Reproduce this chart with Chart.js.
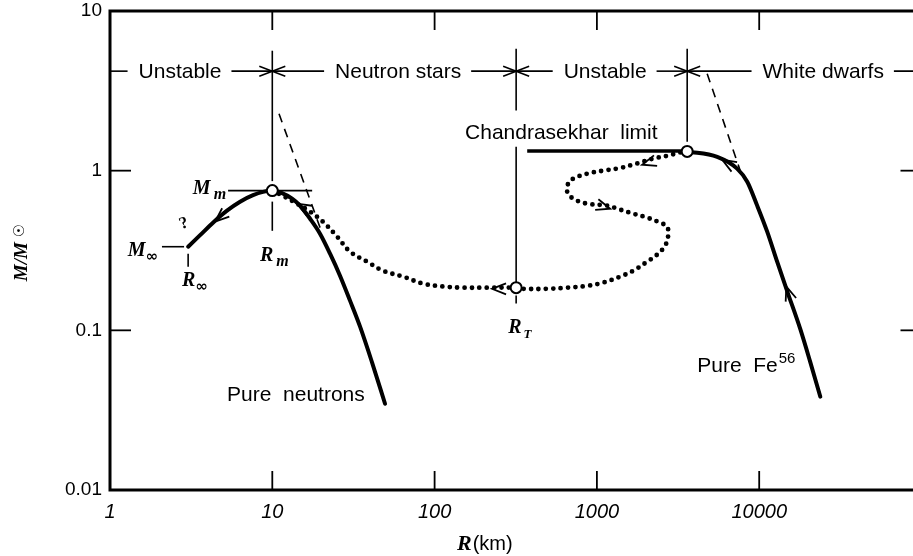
<!DOCTYPE html>
<html><head><meta charset="utf-8">
<script src="https://cdn.jsdelivr.net/npm/chart.js@4.4.1/dist/chart.umd.min.js"></script>
<style>html,body{margin:0;padding:0;background:#fff;overflow:hidden;width:913px;height:556px}canvas{display:block}</style>
</head><body>
<canvas id="c" width="929" height="556"></canvas>
<script>
// ---------- data (R in km, M in solar masses) ----------
const xTickValues = [1, 10, 100, 1000, 10000, 100000];
const xTickLabels = ['1', '10', '100', '1000', '10000', ''];
const yTickValues = [0.01, 0.1, 1, 10];
const yTickLabels = ['0.01', '0.1', '1', '10'];

// pure-neutron branch (from R∞ through the maximum M_m down to low mass)
const neutronR = [3.03, 3.59, 4.31, 5.26, 6.33, 7.61, 8.77, 10, 11.48, 13.24, 14.83, 17.09, 19.68, 22.69, 26.13, 30.12, 34.74, 41.2, 49.5];
const neutronM = [0.334, 0.3945, 0.4724, 0.5617, 0.639, 0.702, 0.736, 0.75, 0.723, 0.668, 0.604, 0.500, 0.403, 0.302, 0.220, 0.1535, 0.1054, 0.0628, 0.0347];

// dotted branch: from M_m through R_T and the S-bend up to the Chandrasekhar point
const dottedR = [10, 11.6, 14.2, 17.1, 20.5, 25.1, 30.1, 38.4, 48.2, 64, 85, 113, 150, 211, 318, 351, 494, 656, 871, 1093, 1391, 1672, 2040, 2351, 2634, 2749, 2710, 2455, 2040, 1672, 1391, 1156, 871, 714, 656, 665, 714, 871, 1093, 1391, 1771, 2222, 2710, 3260, 3600];
const dottedM = [0.75, 0.697, 0.621, 0.554, 0.479, 0.386, 0.311, 0.269, 0.236, 0.217, 0.196, 0.188, 0.185, 0.185, 0.185, 0.182, 0.182, 0.185, 0.19, 0.199, 0.217, 0.236, 0.269, 0.298, 0.339, 0.392, 0.446, 0.472, 0.508, 0.538, 0.57, 0.604, 0.621, 0.668, 0.739, 0.829, 0.891, 0.958, 1.0, 1.04, 1.11, 1.19, 1.24, 1.30, 1.32];

// Chandrasekhar limit line
const chandraR = [372, 3600];
const chandraM = [1.33, 1.33];

// white-dwarf (pure Fe56) branch
const dwarfR = [3600, 5510, 7310, 8440, 9720, 11200, 12900, 14900, 17900, 20600, 23800];
const dwarfM = [1.32, 1.22, 1.03, 0.853, 0.604, 0.415, 0.269, 0.175, 0.102, 0.0637, 0.0384];

// dashed asymptotes
const dashNR = [11.0, 20.0];
const dashNM = [2.27, 0.421];
const dashWR = [4780, 7750];
const dashWM = [4.05, 0.958];

// marked points: M_m/R_m, R_T, Chandrasekhar limit
const markR = [10, 318, 3600];
const markM = [0.75, 0.185, 1.32];

// region band
const dividerR = [10, 318, 3600];
const regionNames = ['Unstable', 'Neutron stars', 'Unstable', 'White dwarfs'];
const regionLabelR = [2.70, 59.6, 1124, 24800];
const regionBandM = 4.2;

// arrows along curves (series, R, M) – pointing back along the series order
const arrowSeries = ['neutron', 'dotted', 'dotted', 'dotted', 'dotted', 'dwarf', 'dwarf'];
const arrowR = [4.44, 14.2, 226, 1207, 1900, 5920, 14700];
const arrowM = [0.48, 0.621, 0.182, 0.578, 1.09, 1.17, 0.188];

// ---------- build chart ----------
const pts = (R, M) => R.map((r, i) => ({ x: r, y: M[i] }));
const seriesPts = { neutron: pts(neutronR, neutronM), dotted: pts(dottedR, dottedM), dwarf: pts(dwarfR, dwarfM) };

const base = { showLine: true, pointRadius: 0, borderColor: '#000', fill: false, order: 2 };

const deco = {
  id: 'deco',
  beforeDatasetsDraw(chart) {
    const { ctx, chartArea: a, scales: { x, y } } = chart;
    const X = v => x.getPixelForValue(v), Y = v => y.getPixelForValue(v);
    const line = (x1, y1, x2, y2) => { ctx.beginPath(); ctx.moveTo(x1, y1); ctx.lineTo(x2, y2); ctx.stroke(); };
    const head = (tx, ty, ang, len = 13, half = 5) => {
      const c = Math.cos(ang), s = Math.sin(ang);
      const bx = tx - len * c, by = ty - len * s;
      ctx.beginPath();
      ctx.moveTo(bx - half * s, by + half * c); ctx.lineTo(tx, ty); ctx.lineTo(bx + half * s, by - half * c);
      ctx.stroke();
    };
    ctx.save();
    ctx.strokeStyle = '#000'; ctx.fillStyle = '#000'; ctx.lineCap = 'butt';
    // frame
    ctx.lineWidth = 3;
    ctx.beginPath();
    ctx.moveTo(a.right + 3, a.top); ctx.lineTo(a.left, a.top); ctx.lineTo(a.left, a.bottom); ctx.lineTo(a.right + 3, a.bottom);
    ctx.stroke();
    // inward ticks
    ctx.lineWidth = 1.8;
    xTickValues.forEach(v => {
      if (v <= x.min || v >= x.max) return;
      const px = X(v); line(px, a.bottom, px, a.bottom - 19); line(px, a.top, px, a.top + 19);
    });
    yTickValues.forEach(v => {
      if (v <= y.min || v >= y.max) return;
      const py = Y(v); line(a.left, py, a.left + 21, py); line(a.right, py, a.right - 21, py);
    });
    // dividers
    ctx.lineWidth = 1.6;
    const vseg = (R, m1, m2) => line(X(R), Y(m1), X(R), Y(m2));
    vseg(dividerR[0], 5.64, 0.86); vseg(dividerR[0], 0.64, 0.42);
    vseg(dividerR[1], 5.8, 2.38); vseg(dividerR[1], 1.41, 0.20); vseg(dividerR[1], 0.165, 0.147);
    vseg(dividerR[2], 5.8, 1.52);
    // M_m, M∞, R∞ marks
    line(X(5.34), Y(markM[0]), X(17.6), Y(markM[0]));
    line(X(2.09), Y(neutronM[0]), X(2.86), Y(neutronM[0]));
    vseg(neutronR[0], 0.302, 0.25);
    // region band
    ctx.font = '21px "Liberation Sans"';
    ctx.textBaseline = 'middle'; ctx.textAlign = 'center';
    const by = Y(regionBandM);
    regionNames.forEach((name, i) => {
      const cx = X(regionLabelR[i]);
      const w = ctx.measureText(name).width;
      ctx.fillText(name, cx, by + 1);
      const lb = i === 0 ? a.left : X(dividerR[i - 1]);
      const rb = i === regionNames.length - 1 ? a.right + 5 : X(dividerR[i]);
      line(lb, by, cx - w / 2 - 11, by);
      line(cx + w / 2 + 10, by, rb, by);
      if (i > 0) head(lb, by, Math.PI);
      if (i < regionNames.length - 1) head(rb, by, 0);
    });
    // text labels
    ctx.textAlign = 'left'; ctx.textBaseline = 'alphabetic';
    const serif = '20px "Liberation Serif"';
    const sub = (main, s, R, M, align, subFont, gap) => {
      ctx.font = 'italic bold ' + serif;
      const w1 = ctx.measureText(main).width;
      ctx.font = subFont;
      const w2 = ctx.measureText(s).width;
      let px = X(R); const py = Y(M);
      if (align === 'right') px -= (w1 + w2 + gap);
      ctx.font = 'italic bold ' + serif; ctx.fillText(main, px, py);
      ctx.font = subFont; ctx.fillText(s, px + w1 + gap, py + 5);
    };
    sub('M', 'm', 5.19, 0.718, 'right', 'italic bold 16px "Liberation Serif"', 3);
    sub('M', '∞', 1.98, 0.294, 'right', 'bold 15px "DejaVu Sans"', 0);
    sub('R', 'm', 8.40, 0.273, 'left', 'italic bold 16px "Liberation Serif"', 3);
    sub('R', '∞', 2.78, 0.190, 'left', 'bold 15px "DejaVu Sans"', 0);
    sub('R', 'T', 284, 0.0967, 'left', 'italic bold 13px "Liberation Serif"', 2);
    ctx.font = '21px "Liberation Sans"';
    ctx.fillText('Chandrasekhar  limit', X(154), Y(1.586));
    ctx.fillText('Pure  neutrons', X(5.26), Y(0.0363));
    const fx = X(4150), fy = Y(0.0551);
    ctx.fillText('Pure  Fe', fx, fy);
    const fw = ctx.measureText('Pure  Fe').width;
    ctx.font = '15px "Liberation Sans"';
    ctx.fillText('56', fx + fw + 1, fy - 9);
    // small question mark near R∞
    ctx.save();
    ctx.translate(X(2.86), Y(0.466));
    ctx.rotate(-0.35);
    ctx.font = 'bold 17px "Liberation Serif"';
    ctx.textAlign = 'center'; ctx.textBaseline = 'middle';
    ctx.fillText('?', 0, 0);
    ctx.restore();
    ctx.restore();
  },
  afterDatasetsDraw(chart) {
    const { ctx, chartArea: a, scales: { x, y } } = chart;
    const X = v => x.getPixelForValue(v), Y = v => y.getPixelForValue(v);
    ctx.save();
    ctx.strokeStyle = '#000'; ctx.lineWidth = 1.8; ctx.lineCap = 'butt';
    arrowSeries.forEach((key, k) => {
      const P = seriesPts[key].map(p => [X(p.x), Y(p.y)]);
      const tx = X(arrowR[k]), ty = Y(arrowM[k]);
      let best = 1e9, bi = 1;
      for (let i = 1; i < P.length; i++) {
        const [x1, y1] = P[i - 1], [x2, y2] = P[i];
        const dx = x2 - x1, dy = y2 - y1, L = dx * dx + dy * dy || 1;
        let t = ((tx - x1) * dx + (ty - y1) * dy) / L; t = Math.max(0, Math.min(1, t));
        const d = Math.hypot(x1 + t * dx - tx, y1 + t * dy - ty);
        if (d < best) { best = d; bi = i; }
      }
      const ang = Math.atan2(P[bi - 1][1] - P[bi][1], P[bi - 1][0] - P[bi][0]);
      const c = Math.cos(ang), s = Math.sin(ang), len = 14, half = 5.5;
      const bx = tx - len * c, by = ty - len * s;
      ctx.beginPath();
      ctx.moveTo(bx - half * s, by + half * c); ctx.lineTo(tx, ty); ctx.lineTo(bx + half * s, by - half * c);
      ctx.stroke();
    });
    // axis titles
    ctx.fillStyle = '#000';
    ctx.textBaseline = 'alphabetic'; ctx.textAlign = 'left';
    ctx.font = 'italic bold 22px "Liberation Serif"';
    const tx0 = a.left + 347, ty0 = 550;
    ctx.fillText('R', tx0, ty0);
    const rw = ctx.measureText('R').width;
    ctx.font = '20px "Liberation Sans"';
    ctx.fillText('(km)', tx0 + rw + 1, ty0);
    ctx.save();
    ctx.translate(27, (a.top + a.bottom) / 2 + 2);
    ctx.rotate(-Math.PI / 2);
    ctx.font = 'italic bold 19px "Liberation Serif"';
    const t1 = 'M/M';
    const w1 = ctx.measureText(t1).width;
    ctx.font = '15px "DejaVu Sans"';
    const w2 = ctx.measureText(' ☉').width;
    ctx.font = 'italic bold 19px "Liberation Serif"';
    ctx.fillText(t1, -(w1 + w2) / 2, 0);
    ctx.font = '15px "DejaVu Sans"';
    ctx.fillText(' ☉', -(w1 + w2) / 2 + w1, -3);
    ctx.restore();
    ctx.restore();
  }
};

new Chart(document.getElementById('c'), {
  type: 'scatter',
  data: {
    datasets: [
      { ...base, data: pts(markR, markM), showLine: false, pointRadius: 5.5, pointBackgroundColor: '#fff', pointBorderColor: '#000', pointBorderWidth: 2, order: 0 },
      { ...base, data: seriesPts.neutron, borderWidth: 4, cubicInterpolationMode: 'monotone', borderCapStyle: 'round' },
      { ...base, data: seriesPts.dotted, borderWidth: 4.8, borderDash: [0, 7.4], borderCapStyle: 'round', tension: 0.35 },
      { ...base, data: pts(chandraR, chandraM), borderWidth: 3.5, tension: 0 },
      { ...base, data: seriesPts.dwarf, borderWidth: 4, cubicInterpolationMode: 'monotone', borderCapStyle: 'round' },
      { ...base, data: pts(dashNR, dashNM), borderWidth: 1.6, borderDash: [9, 7], tension: 0 },
      { ...base, data: pts(dashWR, dashWM), borderWidth: 1.6, borderDash: [9, 7], tension: 0 }
    ]
  },
  options: {
    responsive: false,
    animation: false,
    layout: { padding: { top: 11, right: 4, left: 0, bottom: 0 } },
    plugins: { legend: { display: false }, tooltip: { enabled: false } },
    scales: {
      x: {
        type: 'logarithmic', min: 1, max: 100000,
        afterBuildTicks: s => { s.ticks = xTickValues.map(v => ({ value: v })); },
        afterFit: s => { s.height = 66; s.paddingLeft = 0; s.paddingRight = 0; },
        grid: { display: false, drawTicks: false }, border: { display: false },
        ticks: { autoSkip: false, maxRotation: 0, padding: 10, color: '#000',
          font: { family: 'Liberation Sans', size: 20, style: 'italic' },
          callback: (v, i) => xTickLabels[i] }
      },
      y: {
        type: 'logarithmic', min: 0.01, max: 10,
        afterBuildTicks: s => { s.ticks = yTickValues.map(v => ({ value: v })); },
        afterFit: s => { s.width = 110; s.paddingTop = 0; s.paddingBottom = 0; },
        grid: { display: false, drawTicks: false }, border: { display: false },
        ticks: { autoSkip: false, padding: 8, color: '#000',
          font: { family: 'Liberation Sans', size: 19 },
          callback: (v, i) => yTickLabels[i] }
      }
    }
  },
  plugins: [deco]
});
</script>
</body></html>
